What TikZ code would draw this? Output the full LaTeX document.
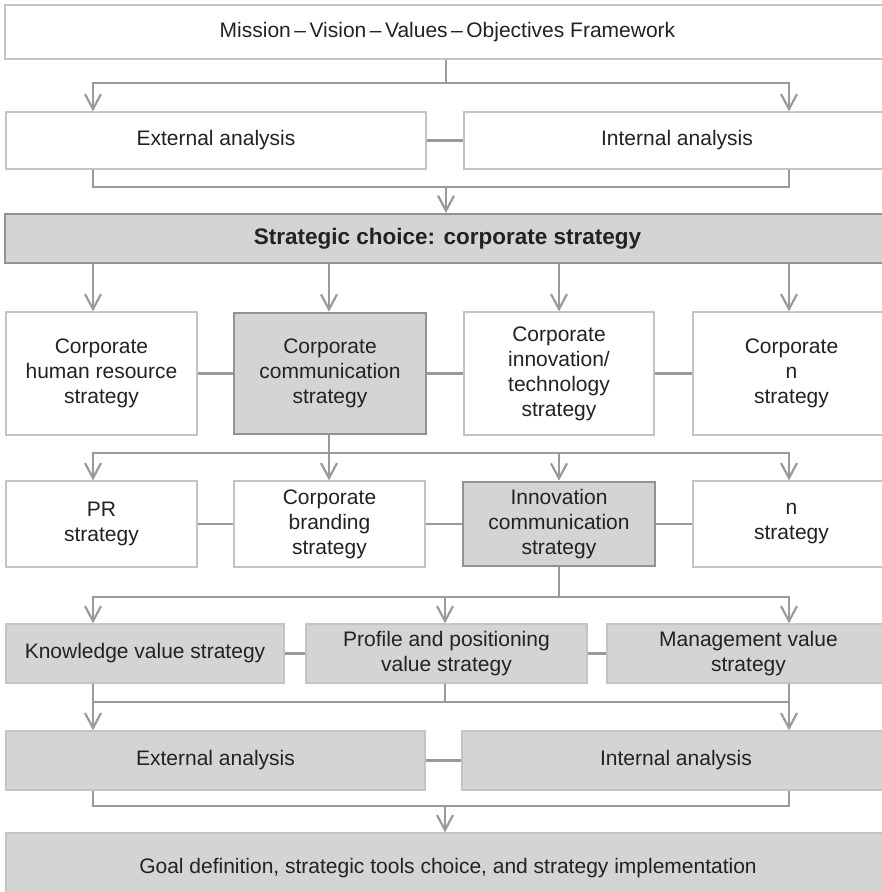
\documentclass[tikz,border=0pt]{standalone}
\usepackage{fontspec}
\setmainfont{Liberation Sans}
\usetikzlibrary{arrows.meta}

\definecolor{boxgray}{HTML}{D4D4D4}
\definecolor{edgegray}{HTML}{C4C4C4}
\definecolor{darkedge}{HTML}{929292}
\definecolor{linegray}{HTML}{9A9A9A}
\definecolor{textgray}{HTML}{222222}

\tikzset{
  box/.style={shape=rectangle,draw=edgegray,line width=1.2pt,fill=white,inner sep=0pt,
    align=center,text=textgray,font=\fontsize{21}{25}\selectfont},
  shadedbox/.style={box,fill=boxgray},
  keybox/.style={box,fill=boxgray,draw=darkedge,line width=2.6pt},
  link/.style={draw=linegray,line width=2.6pt},
  arr/.style={link,-{Straight Barb[length=15pt,width=16pt,line width=2.2pt]}}
}

\begin{document}
\begin{tikzpicture}[x=1pt,y=-1pt]

	\useasboundingbox (0,0) rectangle (882,892);

	% columns and junctions
	\coordinate (colA) at (93,0);
	\coordinate (colB) at (329,0);
	\coordinate (colC) at (559,0);
	\coordinate (colD) at (789,0);
	\coordinate (colM) at (445,0);

	\node[box,minimum width=885pt,minimum height=54pt] (mvv) at (447.5,32) {Mission\,–\,Vision\,–\,Values\,–\,Objectives Framework};

	\node[box,minimum width=420pt,minimum height=57pt] (ext1) at (216,140.5) {External analysis};
	\node[box,minimum width=426pt,minimum height=57pt] (int1) at (677,140.5) {Internal analysis};

	\node[shadedbox,draw=darkedge,line width=2pt,minimum width=885pt,minimum height=49pt] (choice) at (447.5,238.5) {\fontsize{22.5}{25}\selectfont\textbf{Strategic choice: corporate strategy}};

	\node[box,minimum width=191pt,minimum height=123pt] (hr) at (101.5,373.5) {Corporate\\human resource\\strategy};
	\node[keybox,minimum width=192pt,minimum height=121pt] (comm) at (330,373.5) {Corporate\\communication\\strategy};
	\node[box,minimum width=190pt,minimum height=123pt] (inno) at (559,373.5) {Corporate\\innovation/\\technology\\strategy};
	\node[box,minimum width=197pt,minimum height=123pt] (corpn) at (791.5,373.5) {Corporate\\n\\strategy};

	\node[box,minimum width=191pt,minimum height=86pt] (pr) at (101.5,524) {PR\\strategy};
	\node[box,minimum width=191pt,minimum height=86pt] (brand) at (329.5,524) {Corporate\\branding\\strategy};
	\node[keybox,minimum width=192pt,minimum height=84pt] (innocomm) at (559,524) {Innovation\\communication\\strategy};
	\node[box,minimum width=197pt,minimum height=86pt] (nstr) at (791.5,524) {n\\strategy};

	\node[shadedbox,minimum width=278pt,minimum height=59pt] (know) at (145,653.5) {Knowledge value strategy};
	\node[shadedbox,minimum width=281pt,minimum height=59pt] (prof) at (446.5,653.5) {Profile and positioning\\value strategy};
	\node[shadedbox,minimum width=283pt,minimum height=59pt] (mgmt) at (748.5,653.5) {Management value\\strategy};

	\node[shadedbox,minimum width=419pt,minimum height=59pt] (ext2) at (215.5,760.5) {External analysis};
	\node[shadedbox,minimum width=428pt,minimum height=59pt] (int2) at (676,760.5) {Internal analysis};

	\node[shadedbox,minimum width=884pt,minimum height=70pt] (goal) at (448,868) {Goal definition, strategic tools choice, and strategy implementation};

	% framework to analysis
	\coordinate (j1) at (446,83);
	\path[link] (mvv.south -| j1) -- (j1);
	\path[arr] (j1) -| (ext1.north -| colA);
	\path[arr] (j1) -| (int1.north -| colD);
	\path[link] (ext1) -- (int1);

	% analysis to strategic choice
	\coordinate (j2) at (446,187);
	\path[link] (ext1.south -| colA) |- (j2) -| (int1.south -| colD);
	\path[arr] (j2) -- (choice.north -| j2);

	% corporate strategies
	\path[arr] (choice.south -| colA) -- (hr.north -| colA);
	\path[arr] (choice.south -| colB) -- (comm.north -| colB);
	\path[arr] (choice.south -| colC) -- (inno.north -| colC);
	\path[arr] (choice.south -| colD) -- (corpn.north -| colD);
	\path[link] (hr) -- (comm);
	\path[link] (comm) -- (inno);
	\path[link] (inno) -- (corpn);

	% communication strategies
	\coordinate (j4) at (329,453);
	\path[link] (comm.south -| j4) -- (j4);
	\path[arr] (j4) -| (pr.north -| colA);
	\path[arr] (j4) -- (brand.north -| j4);
	\path[arr] (j4) -| (nstr.north -| colD);
	\path[arr] (j4 -| colC) -- (innocomm.north -| colC);
	\path[link] (pr) -- (brand);
	\path[link] (brand) -- (innocomm);
	\path[link] (innocomm) -- (nstr);

	% value strategies
	\coordinate (j5) at (559,597);
	\path[link] (innocomm.south -| j5) -- (j5);
	\path[arr] (j5) -| (know.north -| colA);
	\path[arr] (j5) -| (mgmt.north -| colD);
	\path[arr] (j5 -| colM) -- (prof.north -| colM);
	\path[link] (know) -- (prof);
	\path[link] (prof) -- (mgmt);

	% second analysis
	\coordinate (j6) at (445,702);
	\path[link] (prof.south -| j6) -- (j6);
	\path[link] (j6 -| colA) -- (j6 -| colD);
	\path[arr] (know.south -| colA) -- (ext2.north -| colA);
	\path[arr] (mgmt.south -| colD) -- (int2.north -| colD);
	\path[link] (ext2) -- (int2);

	% goal definition
	\coordinate (j7) at (445,806);
	\path[link] (ext2.south -| colA) |- (j7) -| (int2.south -| colD);
	\path[arr] (j7) -- (goal.north -| j7);

\end{tikzpicture}
\end{document}
